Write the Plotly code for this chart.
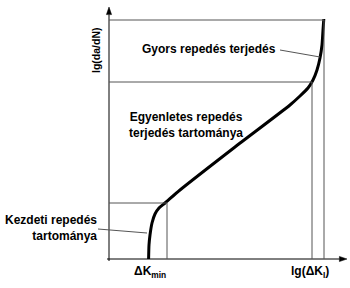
import plotly.graph_objects as go

# Crack growth curve (lg dK vs lg da/dN), arbitrary units
curve_x = [1.98, 2.00, 2.05, 2.15, 2.30, 2.50, 2.80, 3.55, 6.30, 9.05, 9.55, 9.95, 10.20, 10.40, 10.55, 10.65, 10.70, 10.74]
curve_y = [0.00, 0.70, 1.20, 1.80, 2.25, 2.55, 2.80, 3.45, 5.60, 7.70, 8.15, 8.55, 8.95, 9.45, 10.05, 10.70, 11.45, 12.00]

# Region boundaries (x, y)
region_x = [2.90, 10.15, 10.75]
region_y = [2.80, 8.85, 11.95]

axis_x_end = 11.9
axis_y_end = 12.6

labels = {
    "fast": "Gyors repedés terjedés",
    "stable": "Egyenletes repedés<br>terjedés tartománya",
    "initial": "Kezdeti repedés<br>tartománya",
    "kmin": "ΔK<sub>min</sub>",
    "xlab": "lg(ΔK<sub>I</sub>)",
    "ylab": "lg(da/dN)",
}

FONT = "Liberation Sans, Arial, sans-serif"
GRAY = "#555555"

fig = go.Figure()

fig.add_trace(go.Scatter(
    x=curve_x, y=curve_y, mode="lines",
    line=dict(color="black", width=3, shape="spline", smoothing=0.6),
    hoverinfo="skip", showlegend=False,
))

HL, HW = 0.38, 0.13  # arrowhead length / half-width in data units
shapes = [
    dict(type="line", xref="x", yref="y", x0=-0.1, y0=0, x1=axis_x_end - HL, y1=0,
         line=dict(color="black", width=1)),
    dict(type="line", xref="x", yref="y", x0=0, y0=-0.1, x1=0, y1=axis_y_end - HL,
         line=dict(color="black", width=1)),
    dict(type="path", xref="x", yref="y", fillcolor="black", line=dict(color="black", width=0.5),
         path=f"M {axis_x_end},0 L {axis_x_end - HL},{HW} L {axis_x_end - HL},{-HW} Z"),
    dict(type="path", xref="x", yref="y", fillcolor="black", line=dict(color="black", width=0.5),
         path=f"M 0,{axis_y_end} L {HW},{axis_y_end - HL} L {-HW},{axis_y_end - HL} Z"),
]
for rx, ry in zip(region_x, region_y):
    shapes.append(dict(type="line", xref="x", yref="y", x0=0, y0=ry, x1=rx, y1=ry,
                       line=dict(color=GRAY, width=1)))
    shapes.append(dict(type="line", xref="x", yref="y", x0=rx, y0=0, x1=rx, y1=ry,
                       line=dict(color=GRAY, width=1)))
# leader lines
shapes.append(dict(type="line", xref="x", yref="y", x0=8.55, y0=10.45, x1=10.55, y1=10.1,
                   line=dict(color=GRAY, width=1)))
shapes.append(dict(type="line", xref="x", yref="y", x0=-0.55, y0=1.5, x1=1.9, y1=1.3,
                   line=dict(color=GRAY, width=1)))
fig.update_layout(shapes=shapes)

annotations = [
    dict(x=5.0, y=10.5, text=labels["fast"], xanchor="center", size=12),
    dict(x=3.85, y=6.7, text=labels["stable"], xanchor="center", size=12),
    dict(x=-0.5, y=1.56, text=labels["initial"], xanchor="right", align="right", size=12),
    dict(x=2.05, y=-0.65, text=labels["kmin"], xanchor="center", size=12),
    dict(x=10.05, y=-0.65, text=labels["xlab"], xanchor="center", size=12),
    dict(x=-0.65, y=10.45, text=labels["ylab"], textangle=-90, xanchor="center", size=10.5),
]
for a in annotations:
    size = a.pop("size", 12)
    a["showarrow"] = False
    a["yanchor"] = "middle"
    a["font"] = dict(family=FONT, size=size, color="black", weight="bold")
fig.update_layout(annotations=annotations)

fig.update_layout(
    width=350, height=288,
    margin=dict(l=0, r=0, t=0, b=0),
    paper_bgcolor="white", plot_bgcolor="white",
    xaxis=dict(range=[-5.45, 12.05], visible=False, fixedrange=True),
    yaxis=dict(range=[-1.45, 12.95], visible=False, fixedrange=True),
    showlegend=False,
)

fig.write_html("out.html")
